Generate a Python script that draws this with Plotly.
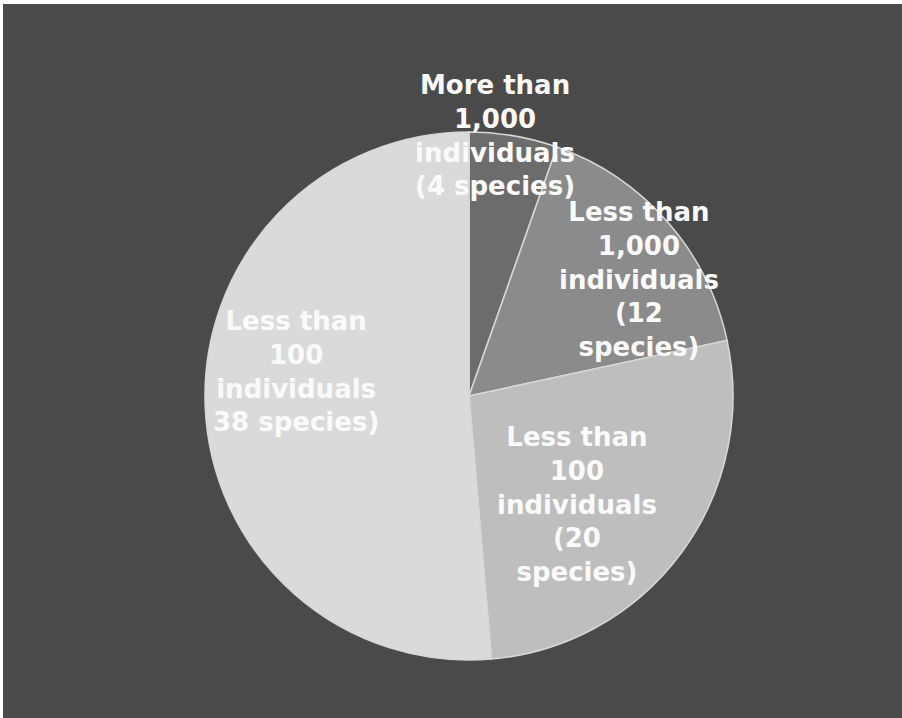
import math
import plotly.graph_objects as go

# Species counts grouped by population size
groups = [
    "More than<br>1,000<br>individuals<br>(4 species)",
    "Less than<br>1,000<br>individuals<br>(12<br>species)",
    "Less than<br>100<br>individuals<br>(20<br>species)",
    "Less than<br>100<br>individuals<br>38 species)",
]
species = [4, 12, 20, 38]

slice_colors = ["#6c6c6c", "#8b8b8b", "#bebebe", "#dadada"]

# Label placement: fraction of radius and angular nudge (degrees) from slice middle
label_radius = [0.99, 0.78, 0.58, 0.66]
label_shift = [-4.0, 7.0, 8.5, 10.5]

W, H = 902, 718
CX, CY, R = 469, 396, 264  # pie centre and radius in pixels

fig = go.Figure()
fig.add_trace(go.Pie(
    values=species,
    labels=[g.replace("<br>", " ") for g in groups],
    sort=False,
    direction="clockwise",
    rotation=0,
    textinfo="none",
    hoverinfo="label+value",
    marker=dict(colors=slice_colors, line=dict(color="#d8d8d8", width=1.5)),
    domain=dict(x=[(CX - R) / W, (CX + R) / W],
                y=[(H - CY - R) / H, (H - CY + R) / H]),
    showlegend=False,
))

total = sum(species)
start = 0.0
annotations = []
for text, v, rf, shift in zip(groups, species, label_radius, label_shift):
    mid = start + v / total * 360.0 / 2
    start += v / total * 360.0
    a = math.radians(mid + shift)
    px = CX + R * rf * math.sin(a)
    py = CY - R * rf * math.cos(a)
    annotations.append(dict(
        x=px / W, y=1 - py / H, xref="paper", yref="paper",
        text=text, showarrow=False, xanchor="center", yanchor="middle",
        font=dict(family="DejaVu Sans", size=26, color="#fafafa", weight="bold"),
    ))

fig.update_layout(
    width=W, height=H,
    margin=dict(l=0, r=0, t=0, b=0),
    paper_bgcolor="#ffffff",
    annotations=annotations,
    shapes=[dict(type="rect", xref="paper", yref="paper", layer="below",
                 x0=3 / W, x1=1, y0=0, y1=1 - 4 / H,
                 fillcolor="#4a4a4a", line=dict(width=0))],
)

fig.write_html("out.html")
